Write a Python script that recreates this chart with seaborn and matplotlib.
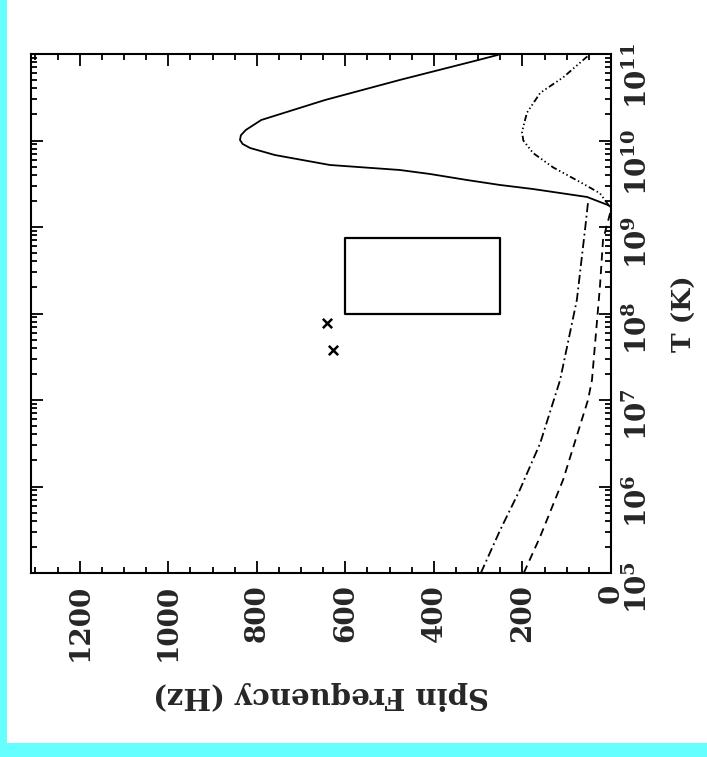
import matplotlib
matplotlib.use("Agg")
import numpy as np
import pandas as pd
import seaborn as sns
import matplotlib.pyplot as plt
from matplotlib.patches import Rectangle
from matplotlib.ticker import MultipleLocator, LogLocator, NullFormatter

# ---------------- data (T in K, spin frequency in Hz) ----------------
solid_T = [10**9.23, 10**9.254, 10**9.347, 10**9.439, 10**9.486, 10**9.543, 10**9.613,
           10**9.659, 10**9.717, 10**9.832, 10**9.913, 10**9.96, 10**10.006, 10**10.06,
           10**10.121, 10**10.237, 10**10.468, 10**10.70, 10**10.93, 10**10.99]
solid_f = [0, 7, 54, 176, 251, 325, 409, 477, 635, 759, 815, 832, 838, 836, 825, 790,
           646, 477, 300, 255]

dotted_T = [10**9.25, 10**9.39, 10**9.52, 10**9.69, 10**9.855, 10**10.0, 10**10.098,
            10**10.32, 10**10.55, 10**10.73, 10**10.93, 10**11.0]
dotted_f = [5, 25, 70, 131, 176, 198, 201, 190, 160, 108, 63, 47]

dashdot_T = [1e5, 10**5.5, 10**5.96, 10**6.5, 10**7.23, 10**8.16, 10**9.0, 10**9.28]
dashdot_f = [294, 250, 206, 160, 115, 77, 58, 52]

dashed_T = [1e5, 10**5.42, 10**6.08, 10**7.0, 10**7.23, 10**8.31, 10**8.85, 10**9.16]
dashed_f = [197, 160, 108, 52, 43, 25, 18, 2]

box_f = [250, 600]
box_T = [1e8, 7.5e8]

cross_f = [642, 627]
cross_T = [7.8e7, 3.8e7]

freq_ticks = [0, 200, 400, 600, 800, 1000, 1200]
temp_exps = [5, 6, 7, 8, 9, 10, 11]

# ---------------- style ----------------
sns.set_theme(style="white")
plt.rcParams["font.family"] = ["DejaVu Serif"]
plt.rcParams["font.weight"] = "bold"
plt.rcParams["mathtext.fontset"] = "dejavuserif"

W, H = 707, 757
fig = plt.figure(figsize=(W / 100, H / 100), dpi=100, facecolor="#66FFFF")
fig.add_artist(Rectangle((7 / W, 14 / H), 700 / W, 743 / H, transform=fig.transFigure,
                         facecolor="white", edgecolor="none", zorder=-10))

ax = fig.add_axes([31 / W, 1 - 573 / H, 580 / W, 519 / H])
ax.set_facecolor("white")
ax.set_yscale("log")

lw = 1.3

def curve(fs, Ts, dashes=None):
    df = pd.DataFrame({"f": fs, "T": Ts})
    sns.lineplot(data=df, x="f", y="T", sort=False, estimator=None, color="black",
                 linewidth=lw, ax=ax)
    line = ax.lines[-1]
    if dashes is not None:
        line.set_dashes(dashes)
    return line

curve(solid_f, solid_T)
curve(dotted_f, dotted_T, (3.5, 1.5, 0.8, 1.5, 0.8, 1.5, 0.8, 1.5))
curve(dashdot_f, dashdot_T, (5, 2, 1, 2))
curve(dashed_f, dashed_T, (4.5, 3))

# box
curve([box_f[0], box_f[1], box_f[1], box_f[0], box_f[0]],
      [box_T[0], box_T[0], box_T[1], box_T[1], box_T[0]])
ax.lines[-1].set_linewidth(1.6)

# crosses
sns.scatterplot(x=cross_f, y=cross_T, marker="x", s=45, color="black", linewidth=1.8, ax=ax)

ax.set_xlim(1310, 0)
ax.set_ylim(1e5, 1e11)

ax.xaxis.set_minor_locator(MultipleLocator(50))
ax.set_xticks(freq_ticks)
ax.set_xticklabels([str(v) for v in freq_ticks])
ax.yaxis.set_minor_locator(LogLocator(base=10, subs=np.arange(2, 10)))
ax.yaxis.set_minor_formatter(NullFormatter())
ax.set_yticks([10.0 ** e for e in temp_exps])
ax.set_yticklabels([r"$\mathbf{10^{%d}}$" % e for e in temp_exps])

ax.tick_params(which="both", direction="in", top=True, bottom=True, left=True, right=True,
               color="black", width=1.3)
ax.tick_params(which="major", length=8.5)
ax.tick_params(which="minor", length=4.5)
ax.tick_params(axis="x", labelrotation=90, labelsize=20, pad=8)
ax.tick_params(axis="y", labelleft=False, labelright=True, labelrotation=90, labelsize=20, pad=9)
for lab in ax.get_xticklabels() + ax.get_yticklabels():
    lab.set_fontweight("bold")

for sp in ax.spines.values():
    sp.set_color("black")
    sp.set_linewidth(1.5)

ax.set_xlabel("Spin Frequency (Hz)", fontsize=21, fontweight="bold", rotation=180, labelpad=14)
ax.yaxis.set_label_position("right")
ax.set_ylabel("T (K)", fontsize=19, fontweight="bold", rotation=90, labelpad=14)

fig.savefig("out.png", dpi=100, facecolor=fig.get_facecolor())
